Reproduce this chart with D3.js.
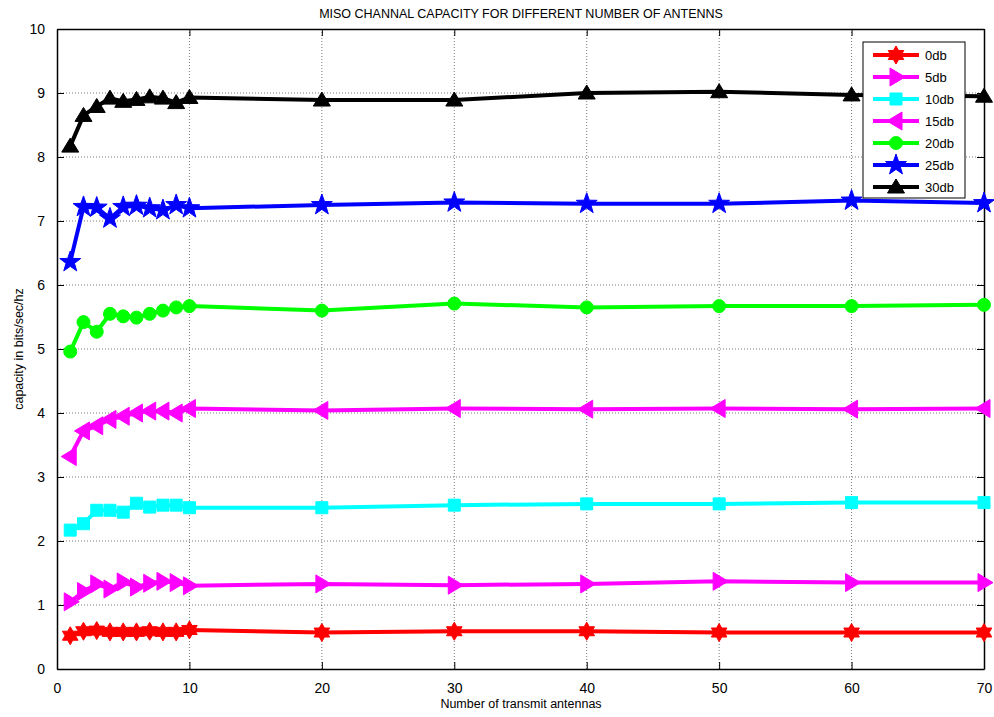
<!DOCTYPE html>
<html><head><meta charset="utf-8">
<script src="https://cdn.jsdelivr.net/npm/d3@7"></script>
<style>
html,body{margin:0;padding:0;background:#fff;}
text{font-family:"Liberation Sans",Arial,sans-serif;}
</style></head>
<body>
<svg id="c" width="994" height="717"></svg>
<script>
const xValues = [1,2,3,4,5,6,7,8,9,10,20,30,40,50,60,70];
const seriesNames = ["0db","5db","10db","15db","20db","25db","30db"];
const s0db  = [0.52,0.59,0.60,0.58,0.58,0.58,0.59,0.58,0.58,0.61,0.57,0.59,0.59,0.57,0.57,0.57];
const s5db  = [1.05,1.21,1.33,1.25,1.36,1.28,1.34,1.37,1.35,1.30,1.33,1.31,1.33,1.37,1.35,1.35];
const s10db = [2.17,2.27,2.48,2.48,2.45,2.59,2.53,2.56,2.56,2.52,2.52,2.56,2.58,2.58,2.60,2.60];
const s15db = [3.32,3.72,3.80,3.90,3.95,4.00,4.03,4.03,4.00,4.07,4.04,4.07,4.06,4.07,4.06,4.07];
const s20db = [4.96,5.42,5.27,5.55,5.51,5.49,5.55,5.60,5.65,5.67,5.60,5.71,5.65,5.67,5.67,5.69];
const s25db = [6.36,7.22,7.21,7.04,7.22,7.24,7.20,7.17,7.25,7.20,7.25,7.29,7.27,7.27,7.32,7.28];
const s30db = [8.17,8.65,8.79,8.92,8.87,8.90,8.94,8.92,8.85,8.93,8.89,8.89,9.00,9.02,8.97,8.95];
const xTicks = [0,10,20,30,40,50,60,70];
const yTicks = [0,1,2,3,4,5,6,7,8,9,10];
const colors = ["#ff0000","#ff00ff","#00ffff","#ff00ff","#00ff00","#0000ff","#000000"];
const markers = ["hexagram","triRight","square","triLeft","circle","pentagram","triUp"];
const allSeries = [s0db,s5db,s10db,s15db,s20db,s25db,s30db];

const svg = d3.select("#c");
const L=57,R=984,T=29,B=669;
const x = d3.scaleLinear().domain([0,70]).range([L,R]);
const y = d3.scaleLinear().domain([0,10]).range([B,T]);

// grid
const g = svg.append("g");
g.selectAll(".gx").data(xTicks.slice(1,-1)).enter().append("line")
 .attr("x1",d=>x(d)).attr("x2",d=>x(d)).attr("y1",T).attr("y2",B)
 .attr("stroke","#555").attr("stroke-width",0.8).attr("stroke-dasharray","1,2");
g.selectAll(".gy").data(yTicks.slice(1,-1)).enter().append("line")
 .attr("y1",d=>y(d)).attr("y2",d=>y(d)).attr("x1",L).attr("x2",R)
 .attr("stroke","#555").attr("stroke-width",0.8).attr("stroke-dasharray","1,2");

// axes
const ax = d3.axisBottom(x).tickValues(xTicks).tickSizeInner(-7).tickSizeOuter(0).tickPadding(14);
const ay = d3.axisLeft(y).tickValues(yTicks).tickSizeInner(-7).tickSizeOuter(0).tickPadding(12);
const gx = svg.append("g").attr("transform",`translate(0,${B})`).call(ax);
const gy = svg.append("g").attr("transform",`translate(${L},0)`).call(ay);
const gx2 = svg.append("g").attr("transform",`translate(0,${T})`).call(d3.axisTop(x).tickValues(xTicks).tickSizeInner(-7).tickSizeOuter(0).tickFormat(""));
const gy2 = svg.append("g").attr("transform",`translate(${R},0)`).call(d3.axisRight(y).tickValues(yTicks).tickSizeInner(-7).tickSizeOuter(0).tickFormat(""));
[gx,gy,gx2,gy2].forEach(a=>{
  a.select(".domain").attr("stroke","#000").attr("stroke-width",1.5);
  a.selectAll(".tick line").attr("stroke","#000").attr("stroke-width",1);
  a.selectAll("text").attr("font-size",14).attr("fill","#000").attr("font-family","Liberation Sans, Arial, sans-serif");
});

// marker paths
function star(n, ro, ri){
  let p=[];
  for(let i=0;i<2*n;i++){
    const r = i%2===0?ro:ri;
    const a = -Math.PI/2 + i*Math.PI/n;
    p.push([r*Math.cos(a), r*Math.sin(a)]);
  }
  return "M"+p.map(q=>q.join(",")).join("L")+"Z";
}
function markerPath(t){
  switch(t){
    case "hexagram": return star(6,9,5.2);
    case "pentagram": return star(5,11,4.4);
    case "triUp": return "M0,-8L8.5,6L-8.5,6Z";
    case "triRight": return "M9,0L-6,-9L-6,9Z";
    case "triLeft": return "M-9,0L6,-9L6,9Z";
    case "square": return "M-6,-6L6,-6L6,6L-6,6Z";
    case "circle": return d3.symbol(d3.symbolCircle, Math.PI*6.5*6.5)();
  }
}

const line = d3.line().x((d,i)=>x(xValues[i])).y(d=>y(d));
allSeries.forEach((s,k)=>{
  const gs = svg.append("g");
  gs.append("path").datum(s).attr("d",line).attr("fill","none")
    .attr("stroke",colors[k]).attr("stroke-width",4).attr("stroke-linejoin","round");
  gs.selectAll("path.m").data(s).enter().append("path").attr("class","m")
    .attr("transform",(d,i)=>`translate(${x(xValues[i])},${y(d)})`)
    .attr("d",markerPath(markers[k]))
    .attr("fill",colors[k]).attr("stroke",colors[k]).attr("stroke-width",1);
});

// legend
const lg = svg.append("g");
lg.append("rect").attr("x",863).attr("y",42).attr("width",102).attr("height",156)
  .attr("fill","#fff").attr("stroke","#000").attr("stroke-width",1);
seriesNames.forEach((n,k)=>{
  const yy = 55 + k*22;
  lg.append("line").attr("x1",873).attr("x2",919).attr("y1",yy).attr("y2",yy)
    .attr("stroke",colors[k]).attr("stroke-width",4);
  lg.append("path").attr("transform",`translate(896,${yy})`).attr("d",markerPath(markers[k]))
    .attr("fill",colors[k]).attr("stroke",colors[k]);
  lg.append("text").attr("x",925).attr("y",yy+5).attr("font-size",13).text(n);
});

// titles
svg.append("text").attr("x",521).attr("y",18).attr("text-anchor","middle").attr("font-size",12.5)
  .text("MISO CHANNAL CAPACITY FOR DIFFERENT NUMBER OF ANTENNS");
svg.append("text").attr("x",521).attr("y",708).attr("text-anchor","middle").attr("font-size",12.5)
  .text("Number of transmit antennas");
svg.append("text").attr("transform","translate(23,349) rotate(-90)").attr("text-anchor","middle").attr("font-size",12.5)
  .text("capacity in bits/sec/hz");
</script>
</body></html>
